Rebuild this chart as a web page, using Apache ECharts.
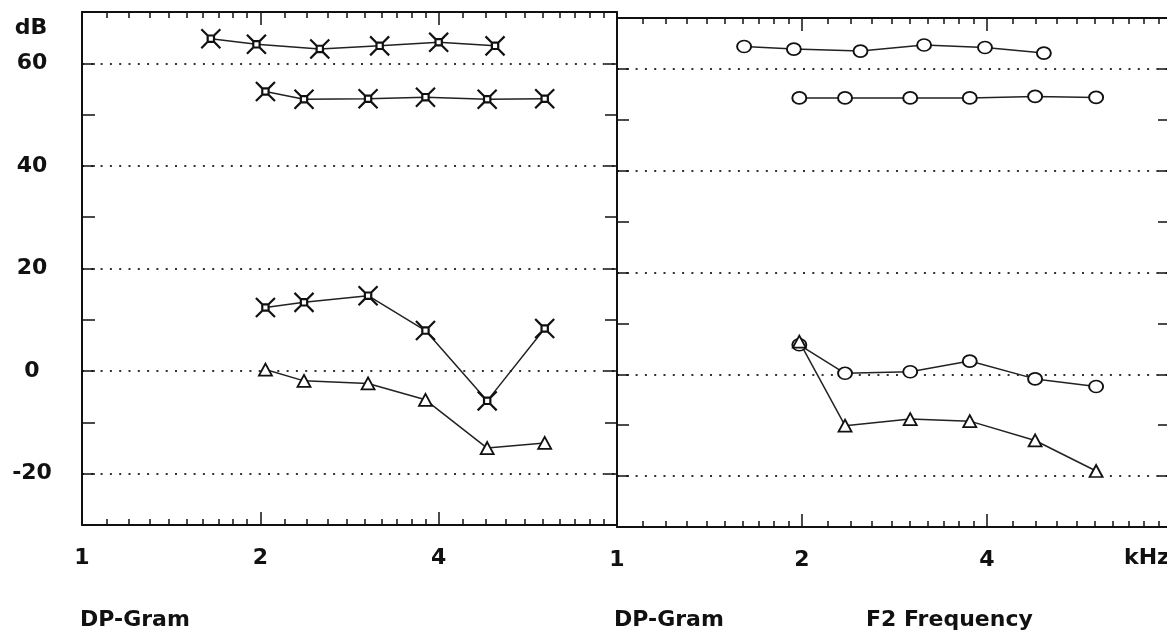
<!DOCTYPE html>
<html><head><meta charset="utf-8">
<script src="https://cdn.jsdelivr.net/npm/echarts@6/dist/echarts.min.js"></script>
<style>html,body{margin:0;padding:0;background:#fff}#c{width:1167px;height:635px}</style>
</head><body><div id="c"></div>
<script>
// ---- tick definitions ----
const xMajorTicks = [1, 2, 4, 8];
const xTickLabels = [1, 2, 4];
const xMinorTicks = [1.1, 1.2, 1.3, 1.4, 1.5, 1.6, 1.7, 1.8, 1.9,
                     2.2, 2.4, 2.6, 2.8, 3.0, 3.2, 3.4, 3.6, 3.8,
                     4.4, 4.8, 5.2, 5.6, 6.0, 6.4, 6.8, 7.2, 7.6];
const yTickLabels = [-20, 0, 20, 40, 60];
const yGridValues = [-20, 0, 20, 40, 60];

// ---- left panel data (kHz, dB) ----
const leftUpperFreq = [1.65, 1.97, 2.52, 3.18, 4.0, 4.98];
const leftFreq      = [2.04, 2.37, 3.04, 3.8, 4.83, 6.04];
const leftL1    = [64.8, 63.7, 62.8, 63.4, 64.1, 63.4];
const leftL2    = [54.5, 53.0, 53.1, 53.4, 53.0, 53.1];
const leftDP    = [12.4, 13.4, 14.7, 7.9, -5.8, 8.3];
const leftNoise = [0.3, -1.9, -2.4, -5.6, -15.0, -14.0];

// ---- right panel data (kHz, dB) ----
const rightUpperFreq = [1.61, 1.94, 2.49, 3.16, 3.97, 4.95];
const rightFreq      = [1.98, 2.35, 3.0, 3.75, 4.79, 6.02];
const rightL1    = [64.4, 63.9, 63.5, 64.7, 64.2, 63.1];
const rightL2    = [54.3, 54.3, 54.3, 54.3, 54.6, 54.4];
const rightDP    = [5.8, 0.2, 0.5, 2.6, -0.9, -2.4];
const rightNoise = [6.4, -10.1, -8.8, -9.2, -13.0, -19.0];

const zip = (xs, ys) => xs.map((x, i) => [x, ys[i]]);

const INK = '#111';
const FONT = 'DejaVu Sans';
const crossSymbol = 'path://M0 0L6 6M18 0L12 6M0 18L6 12M18 18L12 12M6 6H12V12H6Z';

function xAxes(gridIndex, labels) {
  const base = {
    type: 'log', logBase: 2, min: 1, max: 8, gridIndex: gridIndex,
    splitLine: { show: false }
  };
  const mk = (pos, major) => Object.assign({}, base, {
    position: pos,
    axisLine: { show: major, onZero: false, lineStyle: { color: INK, width: 2 } },
    axisTick: { show: true, inside: true, length: major ? 13 : 6,
                customValues: major ? xMajorTicks : xMinorTicks,
                lineStyle: { color: INK, width: 1.5 } },
    axisLabel: (major && pos === 'bottom') ? {
      show: true, customValues: labels, margin: 22,
      color: INK, fontFamily: FONT, fontWeight: 'bold', fontSize: 22
    } : { show: false }
  });
  return [mk('bottom', true), mk('bottom', false), mk('top', true), mk('top', false)];
}

function yAxes(gridIndex, withLabels, tickLenL, tickLenR, showRightLine) {
  const base = { type: 'value', min: -30, max: 70, interval: 10, gridIndex: gridIndex };
  return [
    Object.assign({}, base, {
      position: 'left',
      axisLine: { show: true, onZero: false, lineStyle: { color: INK, width: 2 } },
      axisTick: { show: true, inside: true, length: tickLenL, lineStyle: { color: INK, width: 1.5 } },
      axisLabel: withLabels ? {
        show: true, customValues: yTickLabels, margin: 50, align: 'center',
        color: INK, fontFamily: FONT, fontWeight: 'bold', fontSize: 22
      } : { show: false },
      splitLine: { show: false }
    }),
    Object.assign({}, base, {
      position: 'left',
      axisLine: { show: false, onZero: false },
      axisTick: { show: false, customValues: yGridValues },
      axisLabel: { show: false },
      splitLine: { show: true, lineStyle: { color: '#333', width: 2, type: [2, 7.3] } }
    }),
    Object.assign({}, base, {
      position: 'right',
      axisLine: { show: showRightLine, onZero: false, lineStyle: { color: INK, width: 2 } },
      axisTick: { show: true, inside: true, length: tickLenR, lineStyle: { color: INK, width: 1.5 } },
      axisLabel: { show: false },
      splitLine: { show: false }
    })
  ];
}

function lineSeries(xIdx, yIdx, data, symbol, size, bw) {
  return {
    type: 'line', xAxisIndex: xIdx, yAxisIndex: yIdx, data: data,
    symbol: symbol, symbolSize: size, showSymbol: true,
    lineStyle: { color: '#222', width: 1.5 },
    itemStyle: { color: '#fff', borderColor: INK, borderWidth: bw },
    emphasis: { disabled: true }, z: 3
  };
}

const chart = echarts.init(document.getElementById('c'), null, { renderer: 'canvas' });
chart.setOption({
  animation: false,
  backgroundColor: '#fff',
  grid: [
    { left: 82, top: 12, width: 535, height: 513, outerBoundsMode: 'none', containLabel: false },
    { left: 617, top: 18, width: 555, height: 509, outerBoundsMode: 'none', containLabel: false }
  ],
  xAxis: [].concat(xAxes(0, xTickLabels), xAxes(1, xTickLabels)),
  yAxis: [].concat(yAxes(0, true, 13, 12, true), yAxes(1, false, 12, 14, false)),
  series: [
    lineSeries(0, 0, zip(leftUpperFreq, leftL1), crossSymbol, 19, 2.2),
    lineSeries(0, 0, zip(leftFreq, leftL2), crossSymbol, 19, 2.2),
    lineSeries(0, 0, zip(leftFreq, leftDP), crossSymbol, 19, 2.2),
    lineSeries(0, 0, zip(leftFreq, leftNoise), 'triangle', [13, 12], 1.8),
    lineSeries(4, 3, zip(rightUpperFreq, rightL1), 'circle', [14, 12], 1.8),
    lineSeries(4, 3, zip(rightFreq, rightL2), 'circle', [14, 12], 1.8),
    lineSeries(4, 3, zip(rightFreq, rightDP), 'circle', [14, 12], 1.8),
    lineSeries(4, 3, zip(rightFreq, rightNoise), 'triangle', [13, 12], 1.8)
  ],
  graphic: [
    { type: 'text', x: 31, y: 28, style: { text: 'dB', fill: INK, font: 'bold 22px "DejaVu Sans"', textAlign: 'center', textVerticalAlign: 'middle' } },
    { type: 'text', x: 1124, y: 558, style: { text: 'kHz', fill: INK, font: 'bold 22px "DejaVu Sans"', textAlign: 'left', textVerticalAlign: 'middle' } },
    { type: 'text', x: 80, y: 620, style: { text: 'DP-Gram', fill: INK, font: 'bold 22px "DejaVu Sans"', textAlign: 'left', textVerticalAlign: 'middle' } },
    { type: 'text', x: 614, y: 620, style: { text: 'DP-Gram', fill: INK, font: 'bold 22px "DejaVu Sans"', textAlign: 'left', textVerticalAlign: 'middle' } },
    { type: 'text', x: 866, y: 620, style: { text: 'F2 Frequency', fill: INK, font: 'bold 22px "DejaVu Sans"', textAlign: 'left', textVerticalAlign: 'middle' } }
  ]
});
</script>
</body></html>
